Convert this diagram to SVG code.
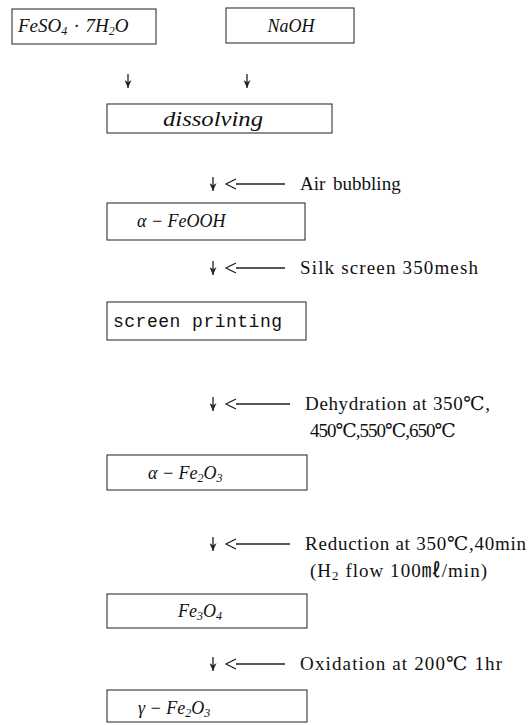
<svg xmlns="http://www.w3.org/2000/svg" width="530" height="725" viewBox="0 0 530 725">
<defs>
<style>
.box{fill:#fff;stroke:#333;stroke-width:1.1}
.f{font-family:"Liberation Serif","Times New Roman",serif;font-style:italic;fill:#111}
.lab{font-family:"Liberation Serif","Times New Roman","DejaVu Serif","Noto Sans CJK JP",serif;font-size:19px;fill:#111}
.mono{font-family:"Liberation Mono","DejaVu Sans Mono",monospace;font-size:18px;fill:#111}
.con{stroke:#222;stroke-width:1.3;fill:none}
</style>
<marker id="dn" viewBox="0 0 7 8" refX="3.5" refY="8" markerWidth="7" markerHeight="8" markerUnits="userSpaceOnUse" orient="0">
<path d="M0,0 L3.5,8 L7,0 L3.5,2.5 Z" fill="#222"/>
</marker>
</defs>

<g id="n1">
<rect class="box" x="12" y="9" width="144" height="35"/>
<text class="f" x="18" y="32" font-size="19" word-spacing="2">FeSO<tspan font-size="12" dy="3">4</tspan><tspan dy="-3"> · 7H</tspan><tspan font-size="12" dy="3">2</tspan><tspan dy="-3">O</tspan></text>
</g>
<g id="n2">
<rect class="box" x="226" y="8" width="128" height="35"/>
<text class="f" x="291" y="32" font-size="18" text-anchor="middle">NaOH</text>
</g>
<g id="n3">
<rect class="box" x="107" y="104" width="225" height="29"/>
<text class="f" x="163" y="126" font-size="22" textLength="100" lengthAdjust="spacingAndGlyphs">dissolving</text>
</g>
<g id="n4">
<rect class="box" x="107" y="203" width="198" height="37"/>
<text class="f" x="137" y="227" font-size="18">α − FeOOH</text>
</g>
<g id="n5">
<rect class="box" x="107" y="302" width="199" height="38"/>
<text class="mono" x="113" y="327" textLength="169">screen printing</text>
</g>
<g id="n6">
<rect class="box" x="107" y="455" width="200" height="35"/>
<text class="f" x="148" y="479" font-size="18">α − Fe<tspan font-size="12" dy="3">2</tspan><tspan dy="-3">O</tspan><tspan font-size="12" dy="3">3</tspan></text>
</g>
<g id="n7">
<rect class="box" x="107" y="594" width="200" height="34"/>
<text class="f" x="178" y="617" font-size="18">Fe<tspan font-size="12" dy="3">3</tspan><tspan dy="-3">O</tspan><tspan font-size="12" dy="3">4</tspan></text>
</g>
<g id="n8">
<rect class="box" x="107" y="690" width="200" height="32"/>
<text class="f" x="138" y="714" font-size="18">γ − Fe<tspan font-size="12" dy="3">2</tspan><tspan dy="-3">O</tspan><tspan font-size="12" dy="3">3</tspan></text>
</g>

<g id="connectors">
<line class="con" x1="128" y1="74" x2="128" y2="88" marker-end="url(#dn)"/>
<line class="con" x1="247" y1="74" x2="247" y2="88" marker-end="url(#dn)"/>
<line class="con" x1="213" y1="177" x2="213" y2="191" marker-end="url(#dn)"/>
<line class="con" x1="213" y1="261" x2="213" y2="275" marker-end="url(#dn)"/>
<line class="con" x1="213" y1="397" x2="213" y2="411" marker-end="url(#dn)"/>
<line class="con" x1="213" y1="537" x2="213" y2="551" marker-end="url(#dn)"/>
<line class="con" x1="213" y1="657" x2="213" y2="671" marker-end="url(#dn)"/>
<path class="con" d="M236,179 L226,184 L236,189 M236,184 H285"/>
<path class="con" d="M236,263 L226,268 L236,273 M236,268 H285"/>
<path class="con" d="M236,399 L226,404 L236,409 M236,404 H290"/>
<path class="con" d="M236,539 L226,544 L236,549 M236,544 H290"/>
<path class="con" d="M236,659 L226,664 L236,669 M236,664 H285"/>
</g>

<g id="labels">
<text class="lab" x="300" y="190" font-size="17" word-spacing="3">Air bubbling</text>
<text class="lab" x="300" y="274" textLength="178" lengthAdjust="spacing">Silk screen 350mesh</text>
<text class="lab" x="305" y="410" textLength="185" lengthAdjust="spacing">Dehydration at 350℃,</text>
<text class="lab" x="310" y="437" font-size="18" letter-spacing="-1">450℃,550℃,650℃</text>
<text class="lab" x="305" y="550" textLength="221" lengthAdjust="spacing">Reduction at 350℃,40min</text>
<text class="lab" x="310" y="577" textLength="177" lengthAdjust="spacing">(H<tspan font-size="13" dy="3">2</tspan><tspan dy="-3"> flow 100㎖/min)</tspan></text>
<text class="lab" x="300" y="670" textLength="202" lengthAdjust="spacing">Oxidation at 200℃ 1hr</text>
</g>
</svg>
